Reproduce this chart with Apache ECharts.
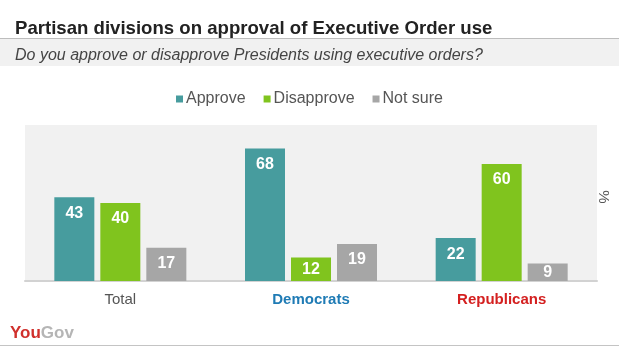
<!DOCTYPE html>
<html>
<head>
<meta charset="utf-8">
<script src="https://cdn.jsdelivr.net/npm/echarts@6/dist/echarts.min.js"></script>
<style>
  html, body { margin: 0; padding: 0; background: #fff; }
  #chart { width: 619px; height: 351px; }
</style>
</head>
<body>
<div id="chart"></div>
<script>
// chart data
var groups = ['Total', 'Democrats', 'Republicans'];
var groupColors = ['#555555', '#1f7bb5', '#d42020'];
var approve = [43, 68, 22];
var disapprove = [40, 12, 60];
var notSure = [17, 19, 9];
var seriesNames = ['Approve', 'Disapprove', 'Not sure'];
var seriesColors = ['#479c9e', '#80c41e', '#a6a6a6'];

var FONT = '"Liberation Sans", Arial, sans-serif';

function labelData(vals) {
  // short bars get the number centred, tall ones near the top
  return vals.map(function (v) {
    return v < 15
      ? { value: v, label: { position: 'inside' } }
      : v;
  });
}

var richStyles = {};
groups.forEach(function (g, i) {
  richStyles['g' + i] = {
    color: groupColors[i],
    fontSize: 15,
    fontFamily: FONT,
    fontWeight: i === 0 ? 'normal' : 'bold'
  };
});

var myChart = echarts.init(document.getElementById('chart'));
var option = {
  backgroundColor: '#fff',
  animation: false,
  title: [
    {
      text: 'Partisan divisions on approval of Executive Order use',
      left: 10, top: 14,
      textStyle: { fontFamily: FONT, fontSize: 18.6, fontWeight: 'bold', color: '#222' }
    },
    {
      text: 'Do you approve or disapprove Presidents using executive orders?',
      left: 10, top: 43,
      textStyle: { fontFamily: FONT, fontSize: 16, fontStyle: 'italic', fontWeight: 'normal', color: '#444' }
    }
  ],
  graphic: [
    { type: 'rect', z: -1, shape: { x: 0, y: 38, width: 619, height: 28 }, style: { fill: '#f1f1f1' } },
    { type: 'rect', shape: { x: 0, y: 38, width: 619, height: 1 }, style: { fill: '#bdbdbd' } },
    { type: 'rect', shape: { x: 0, y: 345, width: 619, height: 1 }, style: { fill: '#c4c4c4' } },
    {
      type: 'text', x: 603, y: 197, rotation: -Math.PI / 2,
      style: { text: '%', fontFamily: FONT, fontSize: 15, fill: '#555', align: 'center', verticalAlign: 'middle' }
    },
    {
      type: 'text', x: 10, y: 333,
      style: {
        text: '{r|You}{g|Gov}',
        verticalAlign: 'middle',
        rich: {
          r: { fontFamily: FONT, fontSize: 17, fontWeight: 'bold', fill: '#d0302c' },
          g: { fontFamily: FONT, fontSize: 17, fontWeight: 'bold', fill: '#b5b5b5' }
        }
      }
    }
  ],
  legend: {
    top: 86,
    left: 'center',
    icon: 'rect',
    itemWidth: 7,
    itemHeight: 7,
    itemGap: 18,
    textStyle: { fontFamily: FONT, fontSize: 16, color: '#555', padding: [0, 0, 0, -2] },
    data: seriesNames
  },
  grid: {
    left: 25, right: 22, top: 125, bottom: 70,
    show: true, backgroundColor: '#f1f1f1', borderWidth: 0
  },
  xAxis: {
    type: 'category',
    data: groups,
    axisLine: { lineStyle: { color: '#d2d2d2', width: 2 } },
    axisTick: { show: false },
    axisLabel: {
      margin: 11,
      formatter: function (v, i) { return '{g' + i + '|' + v + '}'; },
      rich: richStyles
    }
  },
  yAxis: {
    type: 'value', min: 0, max: 80,
    show: false,
    splitLine: { show: false }
  },
  series: [approve, disapprove, notSure].map(function (vals, i) {
    return {
      name: seriesNames[i],
      type: 'bar',
      barWidth: 40,
      barGap: '15%',
      itemStyle: { color: seriesColors[i] },
      label: {
        show: true,
        position: 'insideTop',
        distance: 8,
        color: '#fff',
        fontFamily: FONT,
        fontSize: 16,
        fontWeight: 'bold'
      },
      data: labelData(vals)
    };
  })
};
myChart.setOption(option);
</script>
</body>
</html>
